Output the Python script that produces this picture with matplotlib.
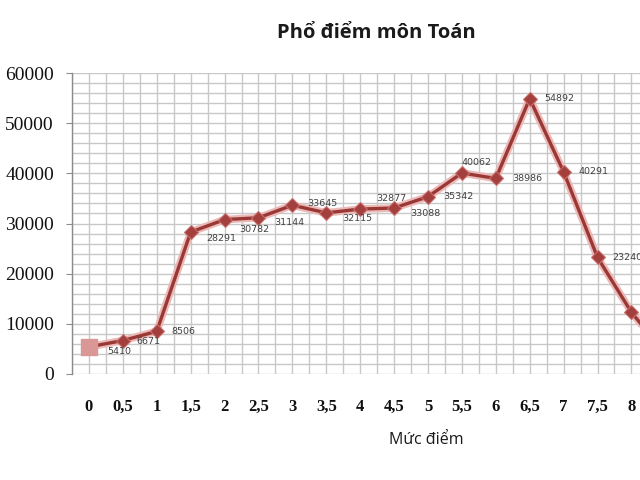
import matplotlib
matplotlib.use("Agg")
import matplotlib.pyplot as plt
from matplotlib.ticker import MultipleLocator, FixedLocator

categories = ["0", "0,5", "1", "1,5", "2", "2,5", "3", "3,5", "4", "4,5",
              "5", "5,5", "6", "6,5", "7", "7,5", "8", "8,5", "9", "9,5", "10"]
values = [5410, 6671, 8506, 28291, 30782, 31144, 33645, 32115, 32877, 33088,
          35342, 40062, 38986, 54892, 40291, 23240, 12300, 4000]
labels = ["5410", "6671", "8506", "28291", "30782", "31144", "33645", "32115",
          "32877", "33088", "35342", "40062", "38986", "54892", "40291", "23240"]
label_dx = [18, 14, 15, 16, 15, 16, 15, 16, 16, 16, 15, 0, 16, 15, 15, 15]
label_dy = [-5, -1, 0, -6, -10, -5, 2, -6, 11, -5, 0, 11, 0, 0, 0, 0]

fig = plt.figure(figsize=(6.4, 4.8), dpi=100)
ax = fig.add_axes([72/640, 106/480, 712/640, 301/480])

n = len(categories)
ax.set_xlim(-0.5, n - 0.5)
ax.set_ylim(0, 60000)

xs = list(range(len(values)))
line_col = "#9A3835"
ax.plot(xs, values, color="#EBB9B7", lw=5.5, solid_capstyle="round", zorder=3)
ax.plot(xs, values, color=line_col, lw=2.4, zorder=4)
ax.plot(xs[1:], values[1:], ls="none", marker="D", ms=7.5, color="#A33F3C",
        mec="#C86E6B", mew=0.8, zorder=5)
ax.plot(xs[:1], values[:1], ls="none", marker="s", ms=12, color="#D99795", zorder=6)

for i, lab in enumerate(labels):
    ax.annotate(lab, (xs[i], values[i]), xytext=(label_dx[i], label_dy[i]),
                textcoords="offset pixels", ha="left", va="center",
                fontsize=6.8, color="#404040", family="DejaVu Sans",
                annotation_clip=False, zorder=7)

# grid
ax.xaxis.set_major_locator(FixedLocator(range(n)))
ax.set_xticklabels(categories, fontfamily="Liberation Serif", fontweight="bold",
                   fontsize=12, color="#111111")
ax.xaxis.set_minor_locator(MultipleLocator(0.5))
ax.yaxis.set_major_locator(MultipleLocator(10000))
ax.yaxis.set_minor_locator(MultipleLocator(2000))
ax.grid(which="both", color="#C8C8C8", lw=1.0, zorder=0)
ax.set_axisbelow(True)

ax.tick_params(axis="x", which="both", length=0, pad=18)
ax.tick_params(axis="y", which="major", length=4, color="#8C8C8C", pad=9,
               labelsize=14, labelcolor="#111111")
ax.tick_params(axis="y", which="minor", length=0)
for t in ax.get_yticklabels():
    t.set_fontfamily("Liberation Serif")

for s in ["top", "right", "bottom"]:
    ax.spines[s].set_visible(False)
ax.spines["left"].set_color("#8C8C8C")
ax.spines["left"].set_linewidth(1.0)

fig.text(376/640, 1 - 33/480, "Phổ điểm môn Toán", ha="center", va="center",
         fontsize=14.5, fontweight="bold", family="Open Sans", color="#1a1a1a")
fig.text(426/640, 1 - 440/480, "Mức điểm", ha="center", va="center",
         fontsize=11.5, family="Open Sans", color="#1a1a1a")

fig.savefig("out.png", dpi=100)
